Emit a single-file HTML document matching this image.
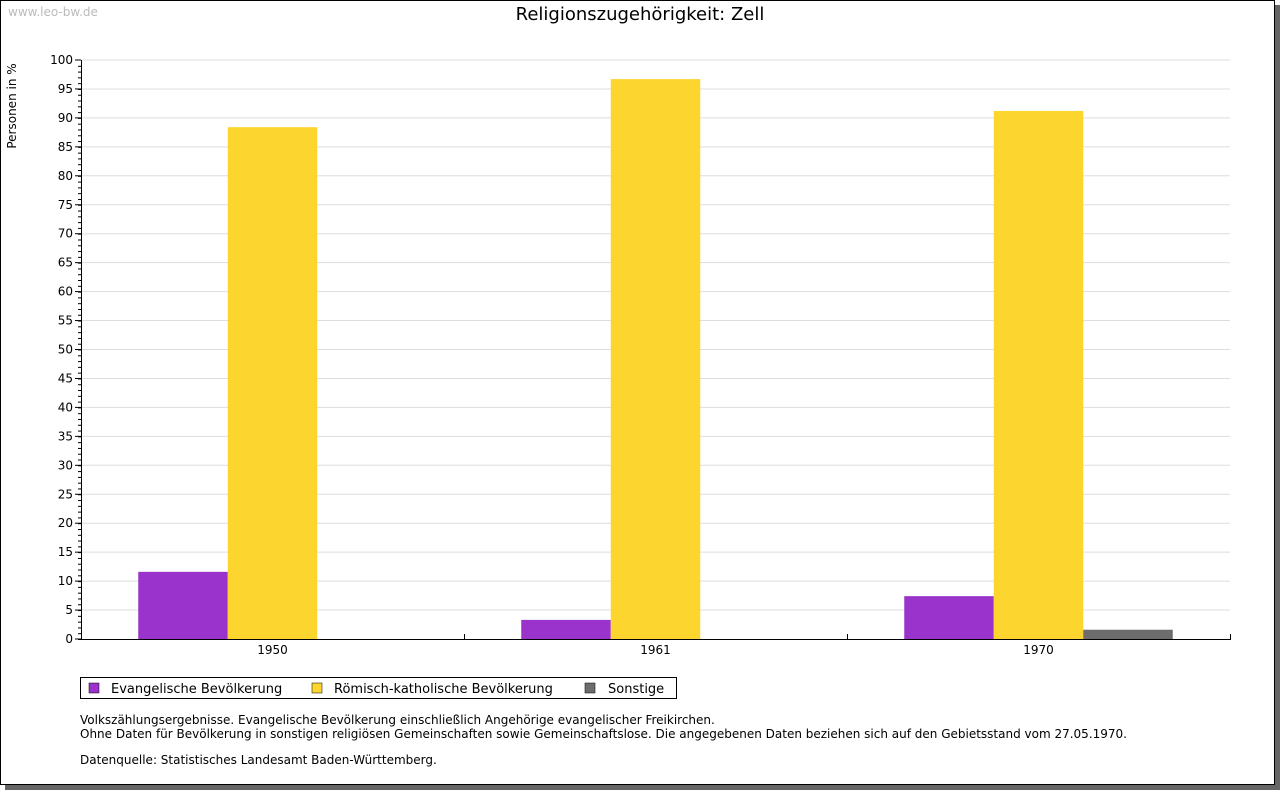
<!DOCTYPE html>
<html><head><meta charset="utf-8"><style>
body{margin:0;width:1280px;height:791px;background:#fff;overflow:hidden;font-family:"DejaVu Sans","Liberation Sans",sans-serif}
#frame{position:absolute;left:0;top:0;width:1273px;height:783px;border:1px solid #000;background:#fff;box-shadow:5px 5px 0 #666}
</style></head><body>
<div id="frame"></div>
<svg id="c" width="1280" height="791" style="position:absolute;left:0;top:0">
<text x="8" y="16" font-size="12" fill="#bbb">www.leo-bw.de</text>
<text x="640" y="20" font-size="18" text-anchor="middle">Religionszugehörigkeit: Zell</text>
<text transform="translate(16,106) rotate(-90)" font-size="12" text-anchor="middle">Personen in %</text>
<g id="grid"></g><g id="bars"></g><g id="axes"></g>
<g>
<rect x="80.5" y="677.5" width="596" height="21" fill="#fff" stroke="#000"/>
<rect x="89" y="683" width="10" height="10" fill="#9933cc" stroke="#000" stroke-width="0.5"/>
<text x="111" y="693" font-size="13">Evangelische Bevölkerung</text>
<rect x="312" y="683" width="10" height="10" fill="#fdd52f" stroke="#000" stroke-width="0.5"/>
<text x="334" y="693" font-size="13">Römisch-katholische Bevölkerung</text>
<rect x="585" y="683" width="10" height="10" fill="#6d6d6d" stroke="#000" stroke-width="0.5"/>
<text x="608" y="693" font-size="13">Sonstige</text>
</g>
<g font-size="12">
<text x="80" y="724">Volkszählungsergebnisse. Evangelische Bevölkerung einschließlich Angehörige evangelischer Freikirchen.</text>
<text x="80" y="738">Ohne Daten für Bevölkerung in sonstigen religiösen Gemeinschaften sowie Gemeinschaftslose. Die angegebenen Daten beziehen sich auf den Gebietsstand vom 27.05.1970.</text>
<text x="80" y="764">Datenquelle: Statistisches Landesamt Baden-Württemberg.</text>
</g>
</svg>
<script>
const categories=["1950","1961","1970"];
const evangelisch=[11.6,3.3,7.4];
const katholisch=[88.4,96.7,91.2];
const sonstige=[0,0,1.6];
const yTicks=[0,5,10,15,20,25,30,35,40,45,50,55,60,65,70,75,80,85,90,95,100];
const NS="http://www.w3.org/2000/svg";
const L=81,R=1230,T=60,B=639;
const y=v=>B-(B-T)*v/100;
const cw=(R-L)/categories.length;
const bw=89.5;
function mk(g,tag,a){const e=document.createElementNS(NS,tag);for(const k in a)e.setAttribute(k,a[k]);document.getElementById(g).appendChild(e);return e;}
yTicks.forEach(t=>{
 if(t>0){const l=mk('grid','line',{x1:L,x2:R,y1:y(t),y2:y(t),stroke:'#ddd'});
 
 }
 const tx=mk('axes','text',{x:L-8,y:y(t)+4,'font-size':12,'text-anchor':'end'});tx.textContent=t;
 
 
 mk('axes','line',{x1:L-6,x2:L,y1:y(t),y2:y(t),stroke:'#000'});
});
for(let v=0;v<100;v++){mk('axes','line',{x1:L-3,x2:L,y1:y(v)+.5,y2:y(v)+.5,stroke:'#000'});}
mk('axes','line',{x1:L+.5,x2:L+.5,y1:T,y2:B,stroke:'#000'});
mk('axes','line',{x1:L,x2:R+1,y1:B+.5,y2:B+.5,stroke:'#000'});
for(let i=1;i<=categories.length;i++){mk('axes','line',{x1:L+cw*i+.5,x2:L+cw*i+.5,y1:B,y2:B-5,stroke:'#000'});}
const series=[[evangelisch,'#9933cc','bar-evangelisch'],[katholisch,'#fdd52f','bar-katholisch'],[sonstige,'#6d6d6d','bar-sonstige']];
categories.forEach((c,i)=>{
 const cx=L+cw*(i+.5);
 series.forEach((s,j)=>{
  const v=s[0][i]; if(!v)return;
  const r=mk('bars','rect',{x:cx-1.5*bw+j*bw,y:y(v),width:bw,height:B-y(v),fill:s[1]});
  
  
 });
 const t=mk('axes','text',{x:cx,y:B+15,'font-size':12,'text-anchor':'middle'});t.textContent=c;
 
 
});
</script>
</body></html>
